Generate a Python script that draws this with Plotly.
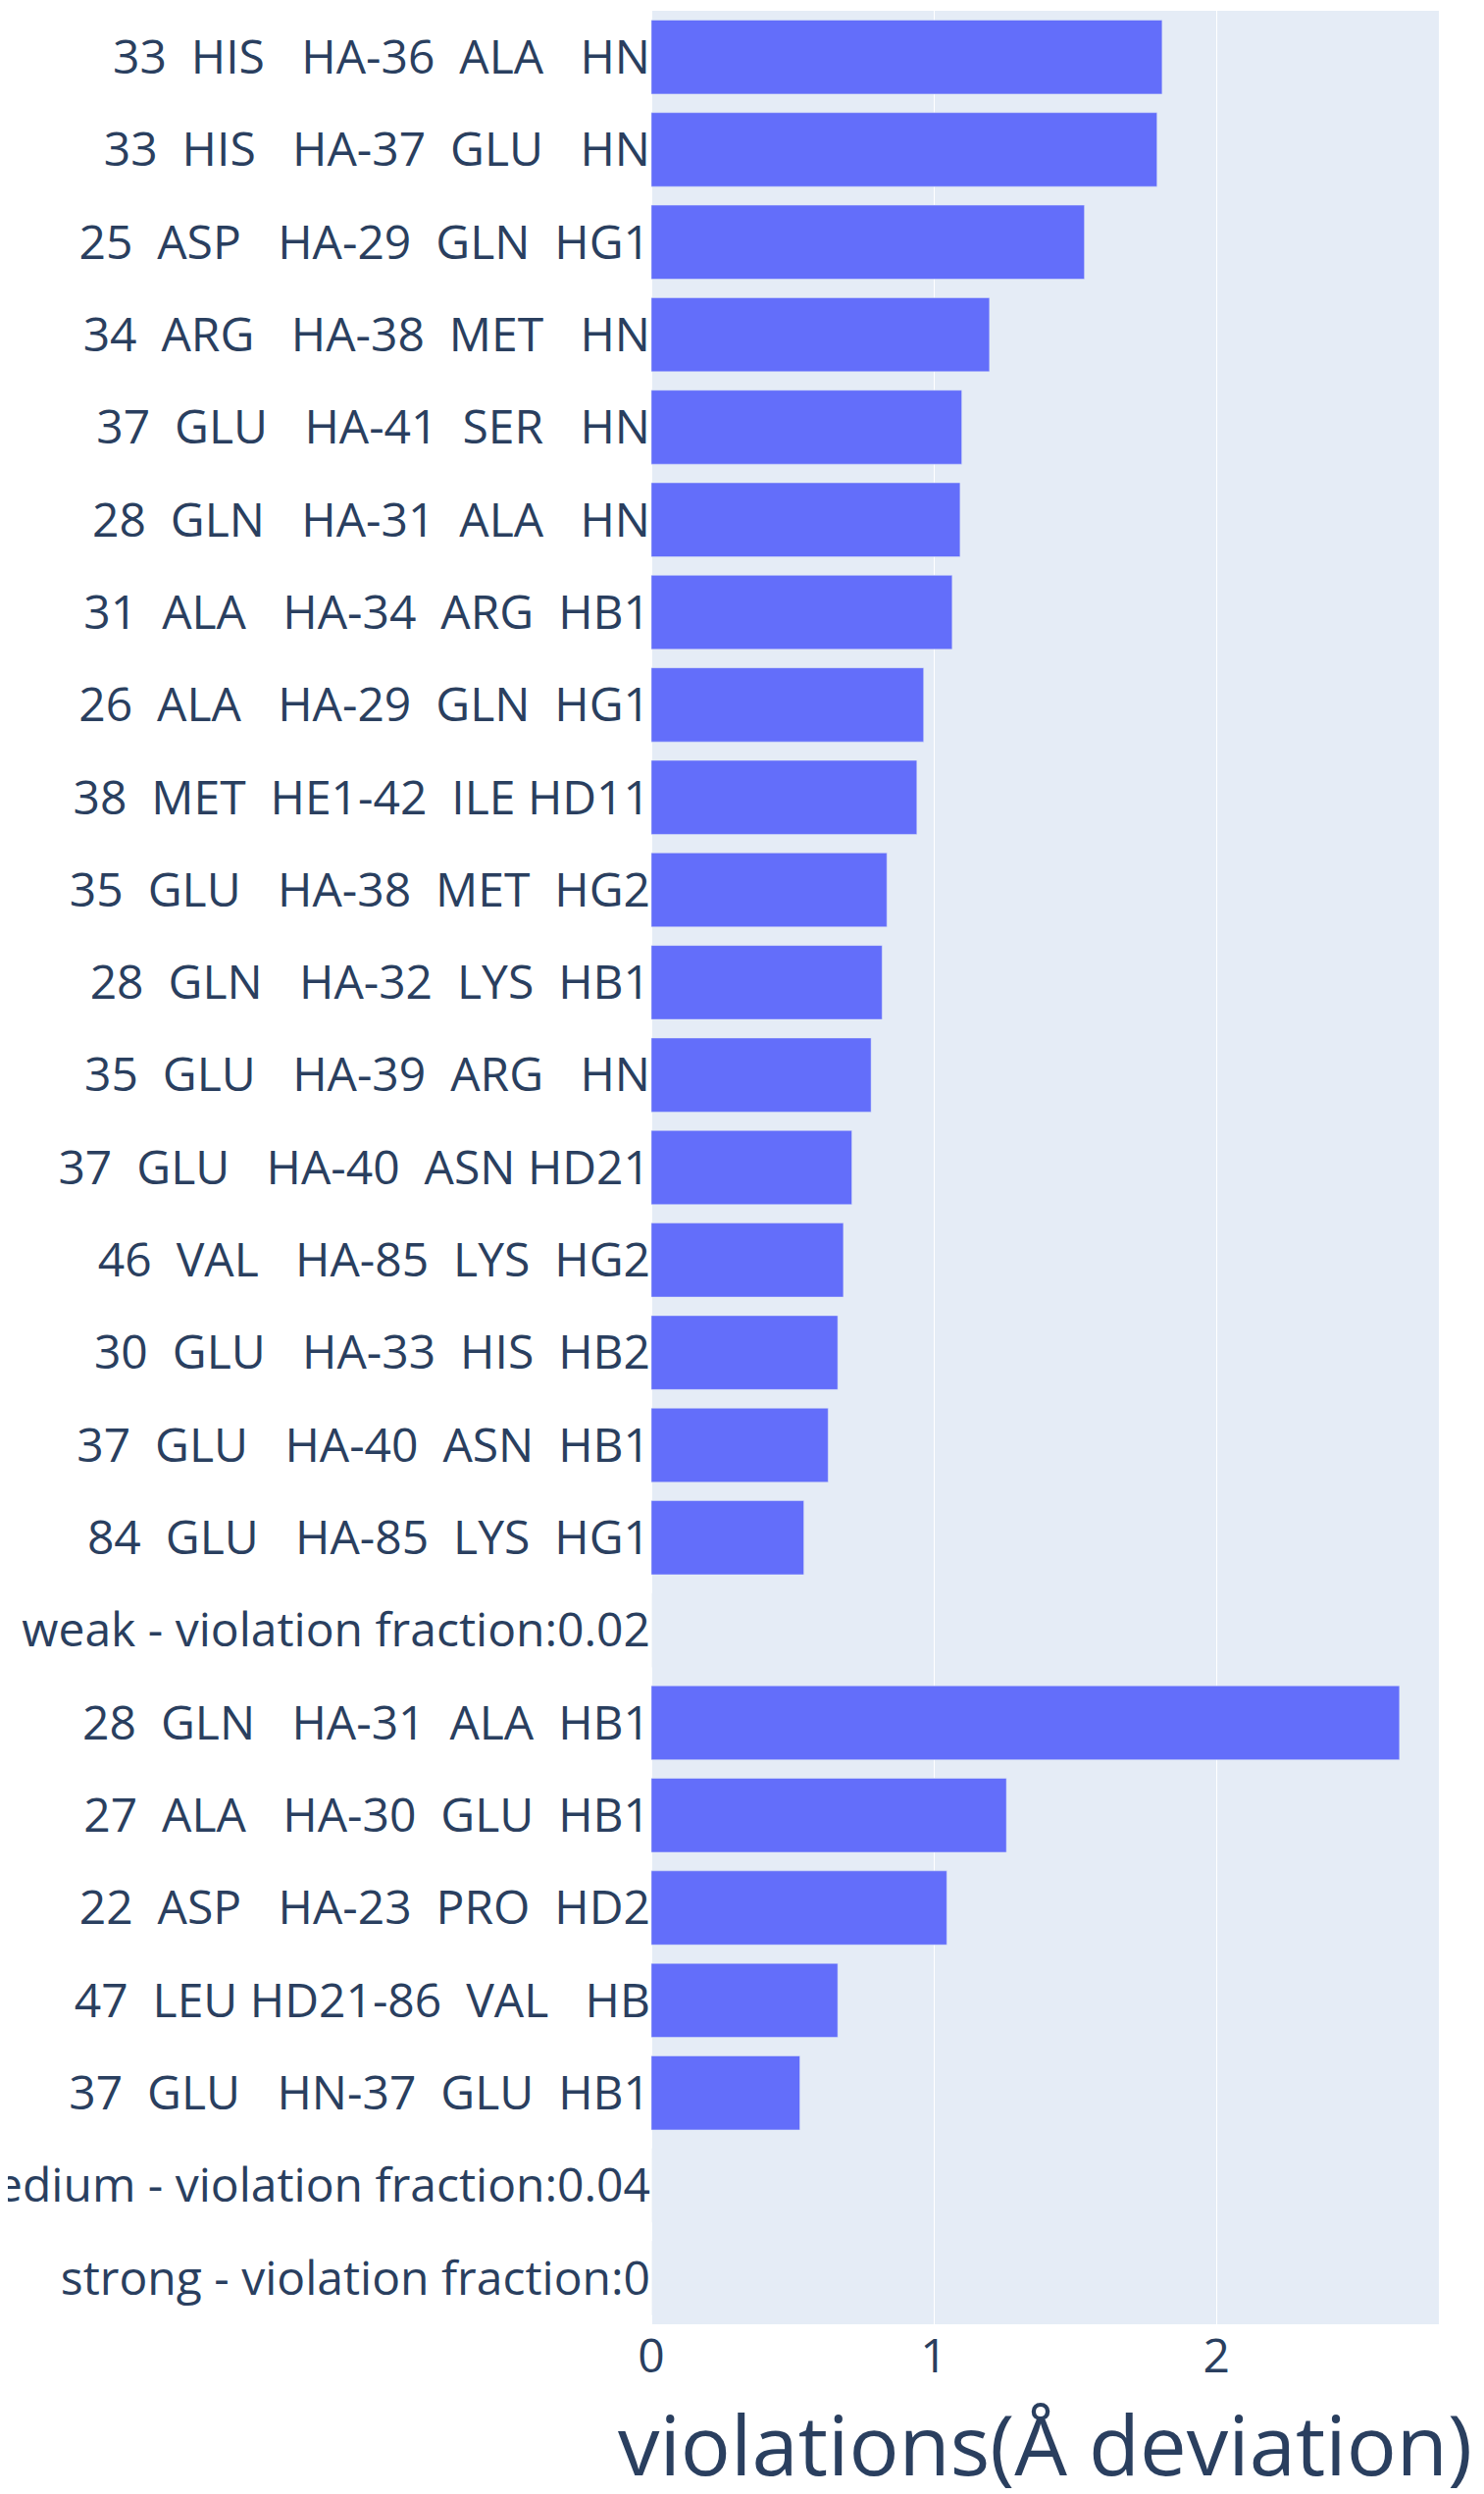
import plotly.graph_objects as go

# Categories listed bottom-to-top (plotly categorical order)
labels = [
    "strong - violation fraction:0",
    "medium - violation fraction:0.04",
    "37  GLU   HN-37  GLU  HB1",
    "47  LEU HD21-86  VAL   HB",
    "22  ASP   HA-23  PRO  HD2",
    "27  ALA   HA-30  GLU  HB1",
    "28  GLN   HA-31  ALA  HB1",
    "weak - violation fraction:0.02",
    "84  GLU   HA-85  LYS  HG1",
    "37  GLU   HA-40  ASN  HB1",
    "30  GLU   HA-33  HIS  HB2",
    "46  VAL   HA-85  LYS  HG2",
    "37  GLU   HA-40  ASN HD21",
    "35  GLU   HA-39  ARG   HN",
    "28  GLN   HA-32  LYS  HB1",
    "35  GLU   HA-38  MET  HG2",
    "38  MET  HE1-42  ILE HD11",
    "26  ALA   HA-29  GLN  HG1",
    "31  ALA   HA-34  ARG  HB1",
    "28  GLN   HA-31  ALA   HN",
    "37  GLU   HA-41  SER   HN",
    "34  ARG   HA-38  MET   HN",
    "25  ASP   HA-29  GLN  HG1",
    "33  HIS   HA-37  GLU   HN",
    "33  HIS   HA-36  ALA   HN",
]

violations = [
    0, 0,
    0.526, 0.66, 1.046, 1.257, 2.648,
    0,
    0.54, 0.626, 0.66, 0.68, 0.71, 0.778, 0.817, 0.834, 0.94, 0.964,
    1.065, 1.093, 1.099, 1.197, 1.533, 1.79, 1.808,
]

x_title = "violations(Å deviation)"

fig = go.Figure(
    go.Bar(
        x=violations,
        y=labels,
        orientation="h",
        marker_color="#636efa",
    )
)

fig.update_layout(
    template="plotly",
    width=1513,
    height=2542,
    margin=dict(l=656, r=54, t=3, b=181, autoexpand=False),
    font=dict(family="Open Sans", size=48, color="#2a3f5f"),
    showlegend=False,
)
fig.update_xaxes(
    title=dict(text=x_title, font=dict(size=85)),
    automargin=False,
    dtick=1,
    tick0=0,
    tickfont=dict(size=48),
)
fig.update_yaxes(
    type="category",
    automargin=False,
    tickfont=dict(size=48),
)

fig.write_html("out.html")
